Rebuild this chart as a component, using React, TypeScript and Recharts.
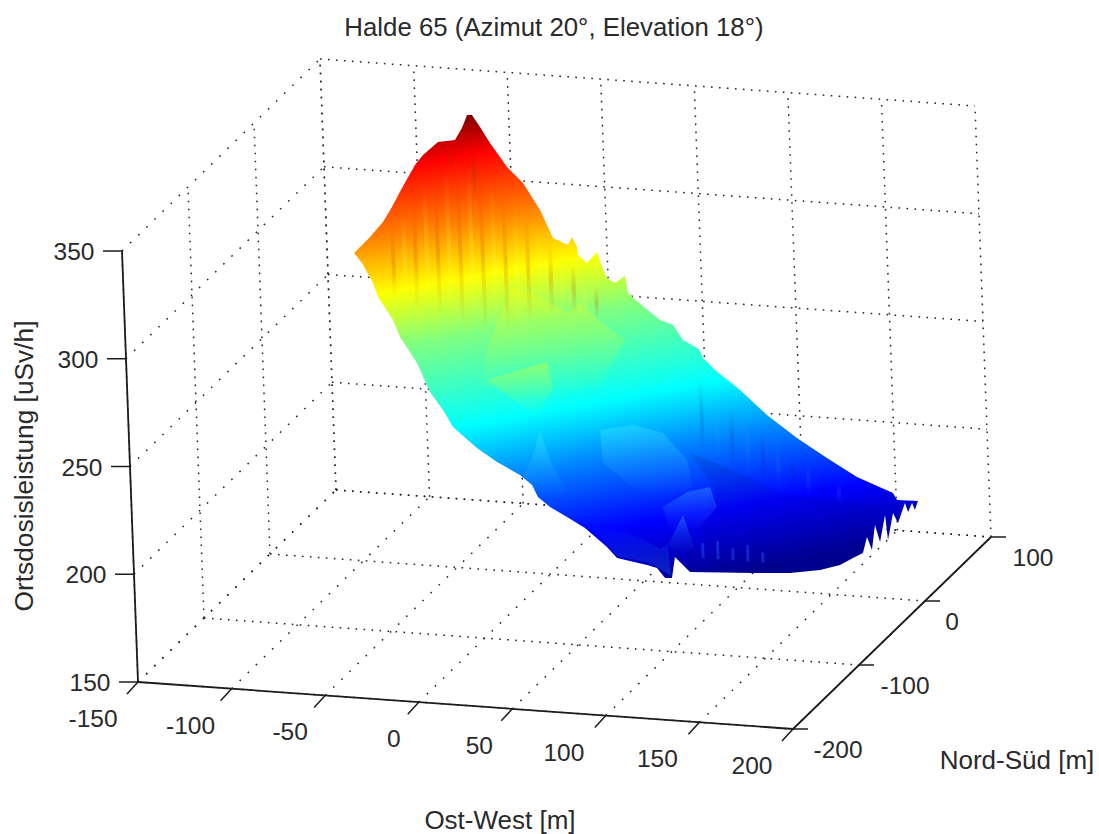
import { Scatter, ScatterChart, XAxis, YAxis } from "recharts"

const WIDTH = 1099
const HEIGHT = 834
const FONT = "'Liberation Sans', Arial, sans-serif"

// axis ticks
const ewTicks = [-150, -100, -50, 0, 50, 100, 150, 200]
const nsTicks = [-200, -100, 0, 100]
const doseTicks = [150, 200, 250, 300, 350]

// upper rim of the heap, at Nord-Sued = 50
const ridgeEW = [-117.3, -108.4, -101.2, -96.1, -90.3, -82.9, -78.4, -70.1, -61.0, -57.0, -54.0, -51.4, -47.3, -42.3, -33.6, -25.4, -16.8, -10.4, -2.5, -0.2, 2.3, 2.7, 7.3, 12.9, 15.3, 17.7, 21.9, 27.4, 28.7, 33.9, 45.3, 52.2, 57.2, 65.6, 67.6, 73.8, 86.8, 100.7, 116.3, 132.0, 147.7, 166.7, 168.7, 179.9]
const ridgeDose = [276.9, 284.8, 292.3, 299.5, 308.7, 319.8, 324.8, 331.3, 332.8, 338.6, 344.8, 345.0, 339.7, 332.6, 322.0, 315.1, 303.1, 290.5, 287.7, 291.6, 287.1, 283.4, 280.0, 285.4, 278.6, 273.7, 271.6, 275.2, 267.4, 263.6, 255.9, 254.0, 247.4, 243.7, 239.7, 234.5, 226.0, 215.3, 205.6, 197.3, 189.4, 183.2, 180.1, 180.3]

// jagged end of the heap, at Nord-Sued = 0
const spikesEW = [196.4, 195.0, 192.7, 191.2, 187.1, 184.6, 181.4, 180.3, 177.1, 174.7, 172.6, 170.2, 167.7]
const spikesDose = [192.0, 195.2, 190.8, 194.9, 185.4, 189.9, 177.2, 188.7, 176.0, 183.7, 172.0, 177.8, 170.3]

// lower rim, at Nord-Sued = -50
const footEW = [180.6, 173.5, 162.7, 146.5, 126.7, 93.0, 85.2, 83.2, 79.5, 75.4, 70.1, 54.2, 49.0, 37.6, 28.2, 19.3, 13.0, 10.1, 3.8, -8.2, -18.7, -31.1, -36.1, -42.7, -49.1, -57.7, -61.1, -68.7, -71.1, -76.6]
const footDose = [183.6, 179.9, 176.9, 174.5, 173.3, 171.6, 178.1, 168.2, 168.0, 172.4, 173.5, 175.7, 180.5, 188.6, 193.1, 197.2, 201.5, 206.8, 211.1, 216.4, 222.2, 231.2, 238.8, 246.7, 259.8, 271.3, 279.0, 289.2, 295.5, 304.5]

// bumps and hollows on the surface, at Nord-Sued = 0
const hillEW = [-14.5, -0.2, 14.5, 21.1, 31.4, 44.5, 30.2, -2.3, -34.1, -27.9]
const hillDose = [282.3, 278.6, 272.1, 277.6, 269.0, 261.4, 239.7, 230.7, 235.6, 256.9]
const shoulderEW = [-30.3, 2.2, 4.9, -4.2]
const shoulderDose = [238.2, 248.6, 237.2, 222.7]
const coneEW = [-2.9, 2.9, 11.9, -1.5, -12.9, -7.7]
const coneDose = [215.8, 200.8, 187.5, 185.7, 193.8, 203.4]
const plateauEW = [29.3, 47.1, 63.0, 75.3, 78.0, 63.8, 45.8, 30.2]
const plateauDose = [218.7, 222.1, 219.4, 207.7, 195.3, 188.4, 193.3, 203.5]
const toeEW = [23.1, 36.4, 48.6, 59.1, 63.4, 64.4, 53.4, 35.9]
const toeDose = [173.3, 172.8, 169.8, 165.8, 167.5, 153.2, 158.5, 160.7]
const knobEW = [72.1, 77.8, 68.6, 63.4]
const knobDose = [181.9, 166.1, 164.1, 167.5]
const moundEW = [61.5, 74.7, 87.1, 90.4, 80.9, 64.7]
const moundDose = [185.0, 192.8, 195.9, 186.8, 176.9, 173.1]
const hollowEW = [77.0, 101.8, 124.5, 151.1, 177.8, 166.3, 128.3, 90.8, 80.9, 89.7]
const hollowDose = [211.0, 203.7, 195.4, 193.8, 193.2, 173.9, 160.9, 158.5, 175.5, 194.6]

// vertical streaks in the measured surface
const upperStreakEW = [-78, -72, -66, -60, -54, -48, -42, -36, -30, -24, -18, -12, -6, 0, 6, 12, 18, 24, 30]
const upperStreakLow = [272, 270, 268, 266, 265, 264, 262, 260, 259, 258, 262, 258, 266, 272, 270, 272, 272, 270, 270]
const upperStreakHigh = [307, 314, 322, 328, 330, 334, 333, 338, 335, 330, 327, 322, 318, 312, 305, 302, 295, 288, 286]
const lowerStreakEW = [84, 92, 100, 108, 116, 124, 132, 140, 148, 156]
const lowerStreakLow = [211, 207, 205, 202, 200, 198, 196, 195, 193, 193]
const lowerStreakHigh = [246, 239, 234, 228, 224, 219, 214, 210, 206, 202]
const toothEW = [82, 90, 98, 106, 114]
const toothLow = [162.5, 162.5, 162.5, 162.5, 162.5]
const toothHigh = [169.5, 171, 168, 170, 167]
const peakStreakEW = [-33, -45]
const peakStreakLow = [322, 335]
const peakStreakHigh = [346, 345]

type Pt = { x: number; y: number }

// parallel projection of the MATLAB box (azimuth 20, elevation 18) onto the page
const project = (ew: number, ns: number, dose: number): Pt => {
  const u = (ew + 150) / 350
  const v = (ns + 200) / 300
  const w = (dose - 150) / 200
  return { x: 138 + 655 * u + 198 * v - 16 * w, y: 682 + 47 * u - 192 * v - 431 * w }
}

const facet = (ew: number[], dose: number[]) => ew.map((e, i) => project(e, 0, dose[i]))

const surfaceOutline = [
  ...ridgeEW.map((e, i) => project(e, 50, ridgeDose[i])),
  ...spikesEW.map((e, i) => project(e, 0, spikesDose[i])),
  ...footEW.map((e, i) => project(e, -50, footDose[i])),
]

const facets = [
  { pts: facet(hollowEW, hollowDose), fill: "url(#fadeDark)" },
  { pts: facet(hillEW, hillDose), fill: "url(#fadeWarm)" },
  { pts: facet(shoulderEW, shoulderDose), fill: "url(#fadeWarm)" },
  { pts: facet(coneEW, coneDose), fill: "url(#fadeLight)" },
  { pts: facet(plateauEW, plateauDose), fill: "url(#fadeLight)" },
  { pts: facet(moundEW, moundDose), fill: "url(#fadeLight)" },
  { pts: facet(toeEW, toeDose), fill: "url(#fadeBlue)" },
  { pts: facet(knobEW, knobDose), fill: "url(#fadeLight)" },
]

const verticalSegments = (ew: number[], low: number[], high: number[]) =>
  ew.map((e, i) => [project(e, 0, low[i]), project(e, 0, high[i])])

const gridLines: Pt[][] = [
  ...ewTicks.map((e) => [project(e, -200, 150), project(e, 100, 150)]),
  ...nsTicks.map((n) => [project(-150, n, 150), project(200, n, 150)]),
  ...doseTicks.map((d) => [project(-150, -200, d), project(-150, 100, d)]),
  ...nsTicks.map((n) => [project(-150, n, 150), project(-150, n, 350)]),
  ...ewTicks.map((e) => [project(e, 100, 150), project(e, 100, 350)]),
  ...doseTicks.map((d) => [project(-150, 100, d), project(200, 100, d)]),
]

const axisLines: Pt[][] = [
  [project(-150, -200, 150), project(-150, -200, 350)],
  [project(-150, -200, 150), project(200, -200, 150)],
  [project(200, -200, 150), project(200, 100, 150)],
]

const tickFrom = (p: Pt, dx: number, dy: number) => [p, { x: p.x + dx, y: p.y + dy }]
const tickLines: Pt[][] = [
  ...doseTicks.map((d) => tickFrom(project(-150, -200, d), -19, 0)),
  ...ewTicks.map((e) => tickFrom(project(e, -200, 150), -11, 12)),
  ...nsTicks.map((n) => tickFrom(project(200, n, 150), 15, 0)),
]

// label offsets from the tick roots
const ewLabelShift = [-45, -41, -35, -25, -33, -42, -42, -41]
const nsLabelShift = [45, 46, 27, 42]

const hidden = () => <g />

const polyline = (key: string, pts: Pt[], line: Record<string, unknown>) => (
  <Scatter key={key} data={pts} line={line} shape={hidden} isAnimationActive={false} />
)

const dashFor = (seg: Pt[]) => {
  const dx = Math.abs(seg[1].x - seg[0].x)
  const dy = Math.abs(seg[1].y - seg[0].y)
  return dx > 0.4 * dy && dy > 0.4 * dx ? "1.6 9.7" : "1.6 6.4"
}

const streakFade = (id: string, color: string, peak: number) => (
  <linearGradient id={id} x1={0} y1={0} x2={0} y2={1}>
    <stop offset={0} stopColor={color} stopOpacity={0} />
    <stop offset={0.5} stopColor={color} stopOpacity={peak} />
    <stop offset={1} stopColor={color} stopOpacity={0} />
  </linearGradient>
)

const textStyle = { fontFamily: FONT, fill: "#2a2a2a" }

export default function App() {
  return (
    <div style={{ position: "absolute", left: 0, top: 0, width: WIDTH, height: HEIGHT, background: "#fff" }}>
      <ScatterChart width={WIDTH} height={HEIGHT} margin={{ top: 0, right: 0, bottom: 0, left: 0 }}>
        <defs>
          <linearGradient id="jetSurface" gradientUnits="userSpaceOnUse" x1={470} y1={115} x2={558} y2={604}>
            <stop offset={0} stopColor="#800000" />
            <stop offset={0.079} stopColor="#ff0000" />
            <stop offset={0.208} stopColor="#ff8000" />
            <stop offset={0.321} stopColor="#ffff00" />
            <stop offset={0.434} stopColor="#80ff80" />
            <stop offset={0.614} stopColor="#00ffff" />
            <stop offset={0.733} stopColor="#0080ff" />
            <stop offset={0.871} stopColor="#0000ff" />
            <stop offset={1} stopColor="#00008f" />
          </linearGradient>
          <linearGradient id="fadeWarm" x1={0} y1={0} x2={0} y2={1}>
            <stop offset={0} stopColor="#ffff00" stopOpacity={0.3} />
            <stop offset={1} stopColor="#ffff00" stopOpacity={0} />
          </linearGradient>
          <linearGradient id="fadeLight" x1={0} y1={0} x2={0} y2={1}>
            <stop offset={0} stopColor="#60ffff" stopOpacity={0.24} />
            <stop offset={1} stopColor="#60ffff" stopOpacity={0} />
          </linearGradient>
          <linearGradient id="fadeBlue" x1={0} y1={0} x2={0} y2={1}>
            <stop offset={0} stopColor="#2060ff" stopOpacity={0.05} />
            <stop offset={1} stopColor="#2060ff" stopOpacity={0.35} />
          </linearGradient>
          <linearGradient id="fadeDark" x1={0} y1={0} x2={0} y2={1}>
            <stop offset={0} stopColor="#000050" stopOpacity={0.13} />
            <stop offset={1} stopColor="#000050" stopOpacity={0.02} />
          </linearGradient>
          {streakFade("streakWarm", "#c03000", 0.2)}
          {streakFade("streakPale", "#ffff50", 0.22)}
          {streakFade("streakDeep", "#000080", 0.14)}
          {streakFade("streakSky", "#40a0ff", 0.14)}
          {streakFade("streakOlive", "#704000", 0.3)}
        </defs>
        <XAxis dataKey="x" type="number" domain={[0, WIDTH]} hide />
        <YAxis dataKey="y" type="number" domain={[0, HEIGHT]} reversed hide />

        {gridLines.map((seg, i) =>
          polyline(`grid-${i}`, seg, { stroke: "#222", strokeWidth: 1.5, strokeDasharray: dashFor(seg) }),
        )}
        {axisLines.map((seg, i) => polyline(`axis-${i}`, seg, { stroke: "#1c1c1c", strokeWidth: 1.8 }))}
        {tickLines.map((seg, i) => polyline(`tick-${i}`, seg, { stroke: "#1c1c1c", strokeWidth: 1.5 }))}

        {polyline("surface", surfaceOutline, { fill: "url(#jetSurface)", stroke: "none" })}
        {facets.map((f, i) => polyline(`facet-${i}`, f.pts, { fill: f.fill, stroke: "none" }))}
        {verticalSegments(upperStreakEW, upperStreakLow, upperStreakHigh).map((seg, i) =>
          polyline(`upper-${i}`, seg, { stroke: i % 2 ? "url(#streakPale)" : "url(#streakWarm)", strokeWidth: 4 }),
        )}
        {verticalSegments(lowerStreakEW, lowerStreakLow, lowerStreakHigh).map((seg, i) =>
          polyline(`lower-${i}`, seg, { stroke: i % 2 ? "url(#streakSky)" : "url(#streakDeep)", strokeWidth: 4 }),
        )}
        {verticalSegments(toothEW, toothLow, toothHigh).map((seg, i) =>
          polyline(`tooth-${i}`, seg, { stroke: "#2a60ff", strokeOpacity: 0.38, strokeWidth: 3 }),
        )}
        {verticalSegments(peakStreakEW, peakStreakLow, peakStreakHigh).map((seg, i) =>
          polyline(`peak-${i}`, seg, { stroke: "url(#streakOlive)", strokeWidth: 3 }),
        )}

        <text x={554} y={36} textAnchor="middle" fontSize={25.8} {...textStyle}>
          Halde 65 (Azimut 20°, Elevation 18°)
        </text>
        {doseTicks.map((d) => {
          const p = project(-150, -200, d)
          return (
            <text key={d} x={p.x - 48} y={p.y + 9} textAnchor="middle" fontSize={24.5} {...textStyle}>
              {d}
            </text>
          )
        })}
        {ewTicks.map((e, i) => {
          const p = project(e, -200, 150)
          return (
            <text key={e} x={p.x + ewLabelShift[i]} y={p.y + 45} textAnchor="middle" fontSize={24.5} {...textStyle}>
              {e}
            </text>
          )
        })}
        {nsTicks.map((n, i) => {
          const p = project(200, n, 150)
          return (
            <text key={n} x={p.x + nsLabelShift[i]} y={p.y + 29} textAnchor="middle" fontSize={24.5} {...textStyle}>
              {n}
            </text>
          )
        })}
        <text x={500} y={829} textAnchor="middle" fontSize={26} {...textStyle}>
          Ost-West [m]
        </text>
        <text x={1017} y={769} textAnchor="middle" fontSize={26} {...textStyle}>
          Nord-Süd [m]
        </text>
        <text transform="translate(33 466) rotate(-90)" textAnchor="middle" fontSize={26.3} {...textStyle}>
          Ortsdosisleistung [uSv/h]
        </text>
      </ScatterChart>
    </div>
  )
}
